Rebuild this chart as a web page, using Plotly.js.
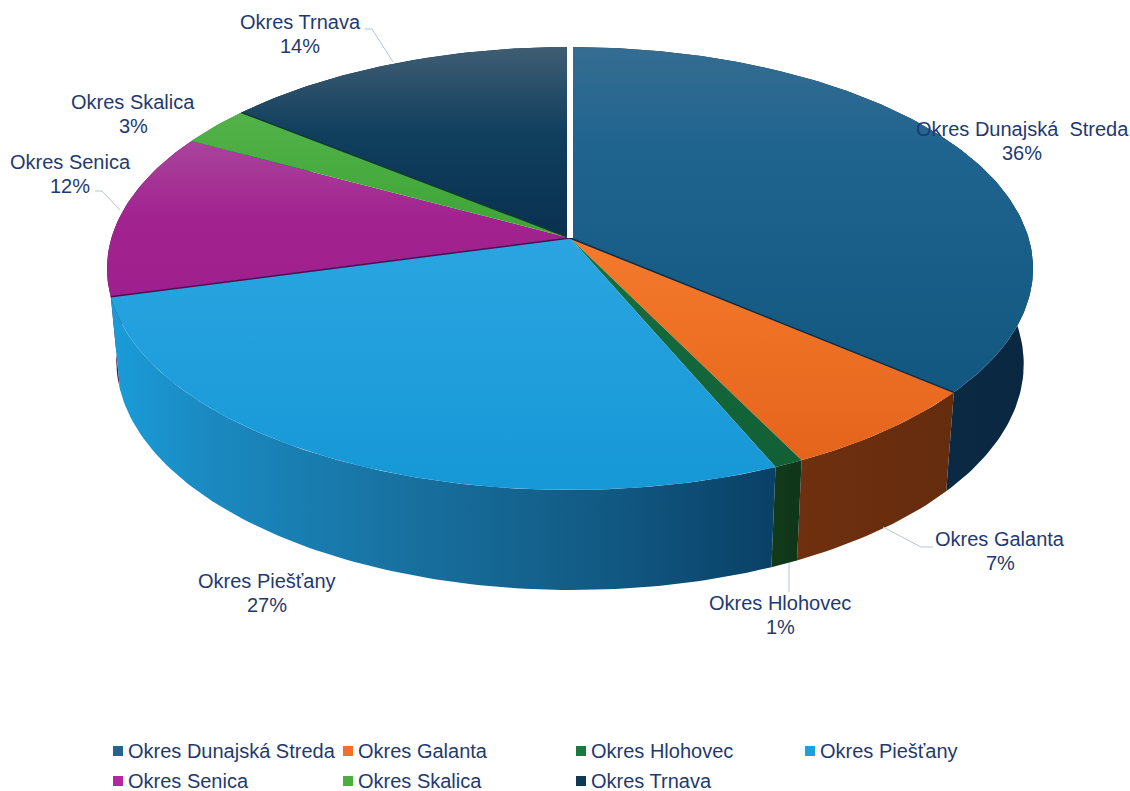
<!DOCTYPE html>
<html>
<head>
<meta charset="utf-8">
<script src="https://cdn.plot.ly/plotly-3.0.1.min.js"></script>
<style>html,body{margin:0;padding:0;background:#fff}#chart{width:1130px;height:791px}</style>
</head>
<body>
<div id="chart"></div>
<script>
// ---- data ----
const categories = ['Okres Dunajská Streda','Okres Galanta','Okres Hlohovec','Okres Piešťany','Okres Senica','Okres Skalica','Okres Trnava'];
const shares = [36.2, 6.5, 0.9, 27.2, 12.1, 2.9, 14.2];
const legendColors = ['#20668f','#f07024','#177a3f','#1fa0dc','#b5279f','#4cae3e','#0e3a54'];
const topGradients = [
  [[0,'#356c92'],[0.3,'#1e648f'],[1,'#11577f']],
  [[0,'#f47a2c'],[1,'#e5641c']],
  [[0,'#16703f'],[1,'#125f36']],
  [[0,'#2aa5e1'],[1,'#1698d6']],
  [[0,'#a9449c'],[0.5,'#a2228f'],[1,'#9f1f8e']],
  [[0,'#52b249'],[1,'#3da435']],
  [[0,'#3f5d73'],[0.45,'#103f5e'],[1,'#0a3050']]
];
const wallGradients = [
  [[0,'#0b3350'],[1,'#0a2740']],
  [[0,'#6f300f'],[1,'#652c0e']],
  [[0,'#123b19'],[1,'#10351a']],
  [[0,'#1a9dd9'],[0.15,'#1a89c0'],[0.45,'#18709f'],[0.75,'#115983'],[1,'#0a4066']],
  [[0,'#4f0f50'],[1,'#4f0f50']],
  [[0,'#2c6a26'],[1,'#2c6a26']],
  [[0,'#0a2740'],[1,'#0a2740']]
];
const edgeColors = ['#0c2b45', null, null, '#4b0f50', null, '#0f3a33', null];
const wallOrder = [5, 6, 4, 0, 1, 2, 3];
const labelCentres = [[1022,141],[1000,551],[780,615],[267,593],[70,174],[133,114],[300,34]];
const leaders = ['M365 29L372 29L393 62','M95 191L102 191L120 210','M933 547L921 547L883 527','M789 563L789 592'];
const legendX = [118,348,581,810,118,348,581];
const legendY = [751,751,751,751,781,781,781];

// ---- pie projection ----
const CX = 570, CY = 238, A = 458.6, B = 217.3, K = 0.1377, SHRINK = 0.98;
const DEPTH0 = 92.5, DEPTH_U = 1.95, DEPTH_V = 12.5;
function project(frac, r) {
  const t = 2 * Math.PI * frac, u = r * Math.sin(t), v = -r * Math.cos(t), d = 1 - K * v;
  return [CX + A * u / d, CY + B * v / d];
}
function arc(f0, f1) {
  const n = Math.max(2, Math.ceil((f1 - f0) * 360)), pts = [];
  for (let i = 0; i <= n; i++) { const f = f0 + (f1 - f0) * i / n; pts.push(project(f, 1).concat(f)); }
  return pts;
}
function lower(p) {
  const t = 2 * Math.PI * p[2];
  return [CX + SHRINK * (p[0] - CX), CY + SHRINK * (p[1] - CY) + DEPTH0 + DEPTH_U * Math.sin(t) - DEPTH_V * Math.cos(t)];
}

const total = shares.reduce((a, b) => a + b, 0);
let acc = 0;
const bounds = shares.map(s => { const b = [acc / total, (acc + s) / total]; acc += s; return b; });
const xs = pts => pts.map(p => p[0]), ys = pts => pts.map(p => p[1]);
const traces = [];

wallOrder.forEach(i => {
  const a = arc(bounds[i][0], bounds[i][1]);
  const poly = a.concat(a.slice().reverse().map(lower));
  poly.push(poly[0]);
  traces.push({type:'scatter', mode:'lines', name:categories[i] + ' (bok)', x:xs(poly), y:ys(poly),
    fill:'toself', line:{width:0}, fillcolor:wallGradients[i][0][1],
    fillgradient:{type:'horizontal', colorscale:wallGradients[i]}, showlegend:false, hoverinfo:'skip'});
});
categories.forEach((c, i) => {
  const poly = [project(0, 0)].concat(arc(bounds[i][0], bounds[i][1]));
  poly.push(poly[0]);
  traces.push({type:'scatter', mode:'lines', name:c, x:xs(poly), y:ys(poly), fill:'toself',
    line:{width:0}, fillcolor:topGradients[i][0][1],
    fillgradient:{type:'vertical', colorscale:topGradients[i], start:Math.min(...ys(poly)), stop:Math.max(...ys(poly))},
    showlegend:false, hoverinfo:'skip'});
});
categories.forEach((c, i) => {
  const col = edgeColors[i];
  if (!col) return;
  const e = [project(0, 0), project(bounds[i][1], 1)];
  traces.push({type:'scatter', mode:'lines', x:xs(e), y:ys(e), line:{color:col, width:1.5}, showlegend:false, hoverinfo:'skip'});
});
const gap = [project(0, 0), project(0, 1.01)];
traces.push({type:'scatter', mode:'lines', x:xs(gap), y:ys(gap), line:{color:'#ffffff', width:6}, showlegend:false, hoverinfo:'skip'});

// legend
categories.forEach((c, i) => {
  traces.push({type:'scatter', mode:'markers', x:[legendX[i]], y:[legendY[i]], name:c,
    marker:{symbol:'square', size:10, color:legendColors[i]}, showlegend:false, hoverinfo:'skip'});
});

const FONT = {family:'Liberation Sans, Arial, sans-serif', size:20, color:'#1f3a70'};
const annotations = [];
categories.forEach((c, i) => {
  annotations.push({x:labelCentres[i][0], y:labelCentres[i][1] - 12, xref:'x', yref:'y', showarrow:false,
    text:i === 0 ? 'Okres Dunajská\u00a0 Streda' : c, font:FONT});
  annotations.push({x:labelCentres[i][0], y:labelCentres[i][1] + 12, xref:'x', yref:'y', showarrow:false,
    text:Math.round(shares[i]) + '%', font:FONT});
  annotations.push({x:legendX[i] + 10, y:legendY[i], xref:'x', yref:'y', showarrow:false, xanchor:'left', yanchor:'middle',
    xshift:-2, text:c, font:FONT});
});

const layout = {
  width:1130, height:791, margin:{l:0,r:0,t:0,b:0}, showlegend:false,
  paper_bgcolor:'#fff', plot_bgcolor:'#fff',
  xaxis:{range:[0,1130], visible:false, fixedrange:true},
  yaxis:{range:[791,0], visible:false, fixedrange:true},
  annotations,
  shapes:leaders.map(p => ({type:'path', path:p, line:{color:'#b9c4d6', width:1}}))
};
Plotly.newPlot('chart', traces, layout, {displayModeBar:false, staticPlot:true});
</script>
</body>
</html>
